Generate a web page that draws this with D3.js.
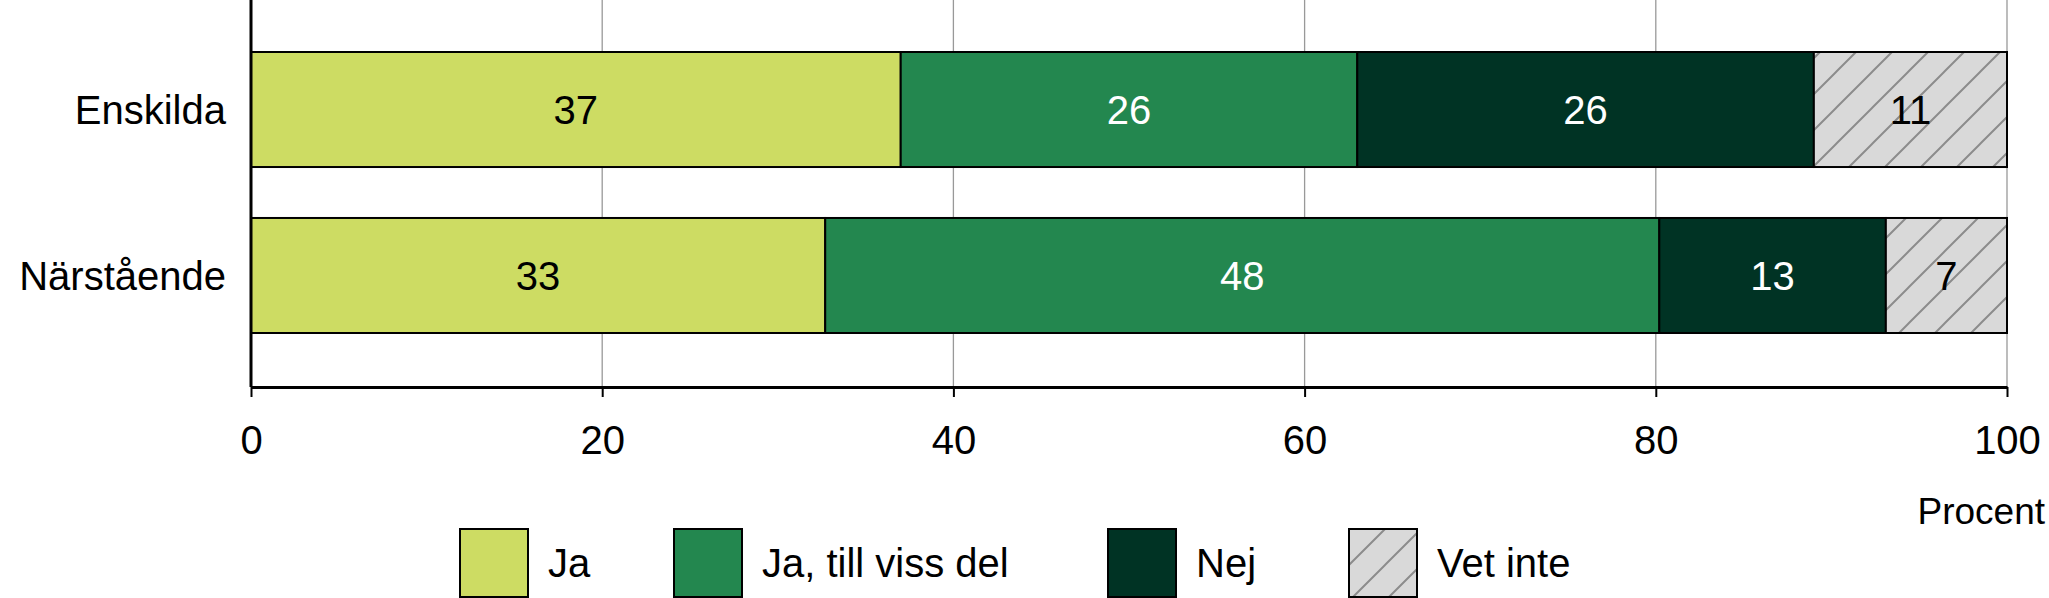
<!DOCTYPE html>
<html><head><meta charset="utf-8">
<script src="https://cdn.jsdelivr.net/npm/d3@7"></script>
<style>body{margin:0;background:#fff}text{font-family:"Liberation Sans",sans-serif}</style>
</head><body><svg id="c" width="2049" height="598"></svg>
<script>
let categories = ['Enskilda', 'Närstående'];
let seriesNames = ['Ja', 'Ja, till viss del', 'Nej', 'Vet inte'];
let enskilda = [37, 26, 26, 11];
let narstaende = [32.7, 47.5, 12.9, 6.9];
let shownLabels = [[37, 26, 26, 11], [33, 48, 13, 7]];
let ticks = [0, 20, 40, 60, 80, 100];
let colors = ['#cddc63', '#23874f', '#003324', 'url(#hatch)'];
let textColors = ['#000', '#fff', '#fff', '#000'];

let svg = d3.select('#c');
let defs = svg.append('defs');
let pat = defs.append('pattern').attr('id', 'hatch').attr('patternUnits', 'userSpaceOnUse')
  .attr('width', 36).attr('height', 36);
pat.append('rect').attr('width', 36).attr('height', 36).attr('fill', '#d9d9d9');
pat.append('path').attr('d', 'M0,36 L36,0 M-9,9 L9,-9 M27,45 L45,27').attr('stroke', '#8c8c8c').attr('stroke-width', 2);

let x = d3.scaleLinear().domain([0, 100]).range([251, 2007]);
let y = d3.scaleBand().domain(categories).range([52, 333]).paddingInner(0.307).paddingOuter(0);
let axisY = 387;

// gridlines
svg.append('g').selectAll('line').data(ticks.slice(1)).enter().append('line')
  .attr('x1', d => x(d)).attr('x2', d => x(d)).attr('y1', 0).attr('y2', axisY)
  .attr('stroke', '#999').attr('stroke-width', 1.3);

let rows = [enskilda, narstaende];
rows.forEach((vals, ri) => {
  let acc = 0;
  let g = svg.append('g');
  vals.forEach((v, i) => {
    let x0 = acc; acc += v;
    g.append('rect').attr('x', x(x0)).attr('y', y(categories[ri]))
      .attr('width', x(acc) - x(x0)).attr('height', y.bandwidth())
      .attr('fill', colors[i]).attr('stroke', '#000').attr('stroke-width', 2);
    g.append('text').attr('x', (x(x0) + x(acc)) / 2).attr('y', y(categories[ri]) + y.bandwidth() / 2)
      .attr('dy', '0.36em').attr('text-anchor', 'middle').attr('font-size', 40)
      .attr('fill', textColors[i]).text(shownLabels[ri][i]);
  });
  svg.append('text').attr('x', 226).attr('y', y(categories[ri]) + y.bandwidth() / 2)
    .attr('dy', '0.36em').attr('text-anchor', 'end').attr('font-size', 40).text(categories[ri]);
});

// axes
svg.append('line').attr('x1', x(0)).attr('x2', x(0)).attr('y1', 0).attr('y2', axisY).attr('stroke', '#000').attr('stroke-width', 3);
let xa = svg.append('g').attr('transform', `translate(0,${axisY})`)
  .call(d3.axisBottom(x).tickValues(ticks).tickSize(10).tickSizeOuter(0));
xa.select('.domain').attr('stroke-width', 3);
xa.selectAll('.tick line').attr('stroke-width', 2);
xa.selectAll('.tick text').attr('font-size', 40).attr('dy', '1.35em').attr('font-family', '"Liberation Sans",sans-serif');
svg.append('text').attr('x', 2045).attr('y', 524).attr('text-anchor', 'end').attr('font-size', 37).text('Procent');

// legend
let legX = [460, 674, 1108, 1349];
let leg = svg.append('g').selectAll('g').data(seriesNames).enter().append('g')
  .attr('transform', (d, i) => `translate(${legX[i]},529)`);
leg.append('rect').attr('width', 68).attr('height', 68).attr('fill', (d, i) => colors[i])
  .attr('stroke', '#000').attr('stroke-width', 2);
leg.append('text').attr('x', 88).attr('y', 34).attr('dy', '0.36em').attr('font-size', 40).text(d => d);
</script></body></html>
